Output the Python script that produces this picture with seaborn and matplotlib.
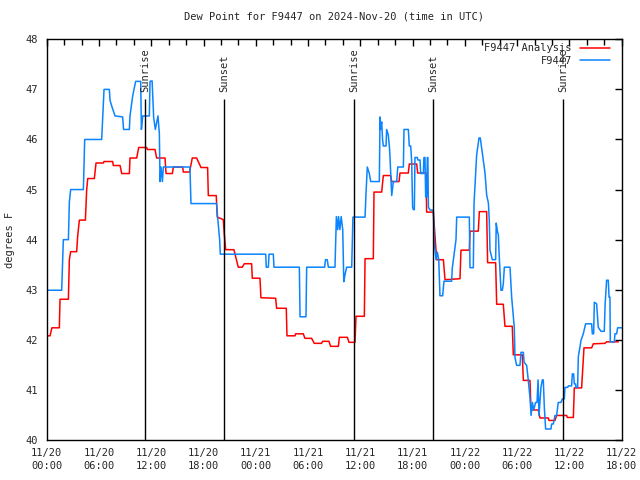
import pandas as pd
import matplotlib
matplotlib.use("Agg")
import matplotlib.pyplot as plt
import matplotlib.dates as mdates
import seaborn as sns

# hours after 2024-11-20 00:00 UTC, dew point in deg F
red_hours = [0, 0.38, 0.6, 1.45, 1.53, 2.49, 2.6, 2.75, 3.44, 3.56, 3.75, 4.44, 4.59, 4.71,
             5.47, 5.66, 6.5, 6.58, 7.57, 7.65, 8.42, 8.61, 9.49, 9.56, 10.33, 10.56, 11.48,
             11.55, 12.43, 12.62, 13.58, 13.7, 14.42, 14.54, 15.61, 15.68, 16.4, 16.71, 17.21,
             17.71, 18.47, 18.55, 19.46, 19.58, 20.27, 20.38, 20.54, 21.49, 21.99, 22.45, 22.68,
             23.52, 23.6, 24.48, 24.59, 26.28, 26.39, 27.5, 27.58, 28.5, 28.57, 29.45, 29.64,
             30.41, 30.71, 31.55, 31.67, 32.4, 32.59, 33.48, 33.59, 34.51, 34.7, 35.39, 35.5,
             36.46, 36.54, 37.49, 37.57, 38.45, 38.64, 39.48, 39.6, 40.44, 40.55, 41.51, 41.62,
             42.47, 42.58, 43.54, 43.61, 44.38, 44.69, 44.76, 45.53, 45.72, 47.44, 47.55, 48.51,
             48.59, 49.54, 49.66, 50.5, 50.61, 51.53, 51.65, 52.41, 52.6, 53.44, 53.56, 54.59,
             54.71, 55.47, 55.59, 56.43, 56.62, 57.58, 57.65, 58.34, 58.53, 59.68, 59.76, 60.45,
             60.56, 61.4, 61.67, 62.55, 62.74, 64.08, 64.27, 65.61]
red_dewpt = [42.08, 42.08, 42.24, 42.24, 42.81, 42.81, 43.6, 43.76, 43.76, 44.08, 44.39, 44.39,
             45.0, 45.22, 45.22, 45.53, 45.53, 45.56, 45.56, 45.48, 45.48, 45.32, 45.32, 45.63,
             45.63, 45.84, 45.84, 45.8, 45.8, 45.63, 45.63, 45.32, 45.32, 45.45, 45.45, 45.35,
             45.35, 45.63, 45.63, 45.44, 45.44, 44.88, 44.88, 44.45, 44.4, 44.12, 43.8, 43.8,
             43.45, 43.45, 43.52, 43.52, 43.23, 43.23, 42.84, 42.83, 42.63, 42.63, 42.08, 42.08,
             42.12, 42.12, 42.03, 42.03, 41.93, 41.93, 41.97, 41.97, 41.87, 41.87, 42.05, 42.05,
             41.95, 41.95, 42.47, 42.47, 43.62, 43.62, 44.95, 44.95, 45.28, 45.28, 45.16, 45.16,
             45.33, 45.33, 45.51, 45.51, 45.33, 45.33, 44.55, 44.55, 43.8, 43.6, 43.6, 43.2,
             43.22, 43.79, 43.79, 44.17, 44.17, 44.56, 44.56, 43.54, 43.54, 42.71, 42.71, 42.27,
             42.27, 41.7, 41.7, 41.19, 41.19, 40.6, 40.6, 40.44, 40.44, 40.39, 40.39, 40.49,
             40.49, 40.45, 40.45, 41.04, 41.04, 41.84, 41.84, 41.92, 41.93, 41.96, 41.96]

blue_hours = [0, 1.72, 1.91, 2.49, 2.6, 2.75, 4.21, 4.36, 6.31, 6.58, 7.19, 7.27, 7.46, 7.84,
              8.72, 8.82, 9.49, 9.56, 9.87, 10.21, 10.79, 10.87, 11.02, 11.78, 11.86, 12.1,
              12.28, 12.47, 12.77, 12.93, 13.01, 13.12, 13.28, 13.39, 16.44, 16.56, 19.5, 19.62,
              19.85, 19.93, 25.14, 25.2, 25.44, 25.52, 26.01, 26.09, 29.0, 29.08, 29.76, 29.84,
              31.9, 32.0, 32.2, 32.33, 33.09, 33.25, 33.4, 33.5, 33.65, 33.8, 33.98, 34.1, 34.24,
              34.43, 35.01, 35.15, 36.54, 36.65, 36.8, 37.03, 37.19, 38.18, 38.26, 38.33, 38.45,
              38.55, 38.64, 38.95, 39.02, 39.2, 39.33, 39.41, 39.6, 39.79, 40.17, 40.3, 40.94,
              41.01, 41.51, 41.62, 41.78, 41.89, 42.0, 42.08, 42.2, 42.27, 42.54, 42.6, 42.85,
              42.93, 43.23, 43.3, 43.42, 43.5, 43.61, 43.69, 43.75, 43.81, 44.0, 44.38, 44.5,
              44.69, 44.84, 45.0, 45.14, 45.45, 45.6, 46.48, 46.56, 46.98, 47.06, 48.51, 48.59,
              48.97, 49.05, 49.35, 49.62, 49.77, 50.0, 50.31, 50.5, 50.7, 50.8, 50.88, 51.15,
              51.53, 51.6, 51.75, 51.84, 51.91, 52.14, 52.3, 52.41, 52.53, 53.18, 53.37, 53.56,
              53.67, 53.75, 53.94, 54.32, 54.44, 54.71, 54.8, 55.09, 55.28, 55.47, 55.6, 55.75,
              55.9, 56.12, 56.28, 56.4, 56.51, 56.73, 56.89, 57.0, 57.12, 57.27, 57.88, 57.96,
              58.15, 58.34, 58.53, 58.72, 59.03, 59.18, 59.41, 59.49, 59.8, 59.87, 60.25, 60.33,
              60.48, 60.56, 60.71, 60.75, 60.94, 61.02, 61.33, 61.59, 61.86, 62.55, 62.63, 62.78,
              62.86, 63.12, 63.31, 63.62, 64.0, 64.1, 64.27, 64.46, 64.55, 64.65, 64.69, 65.15,
              65.23, 65.42, 65.53, 65.99]
blue_dewpt = [42.99, 42.99, 44.0, 44.0, 44.75, 45.0, 45.0, 46.0, 46.0, 47.0, 47.0, 46.78, 46.67,
              46.47, 46.45, 46.2, 46.2, 46.47, 46.87, 47.16, 47.16, 46.2, 46.47, 46.47, 47.16,
              47.17, 46.43, 46.2, 46.47, 46.12, 45.16, 45.45, 45.16, 45.45, 45.45, 44.72, 44.72,
              44.45, 44.0, 43.71, 43.71, 43.45, 43.45, 43.71, 43.71, 43.45, 43.45, 42.46, 42.46,
              43.45, 43.45, 43.6, 43.6, 43.45, 43.45, 44.46, 44.2, 44.46, 44.2, 44.46, 44.2,
              43.16, 43.3, 43.45, 43.45, 44.45, 44.45, 44.92, 45.45, 45.32, 45.16, 45.16, 46.45,
              46.2, 46.35, 46.0, 45.87, 45.87, 46.2, 46.1, 45.87, 45.63, 44.88, 45.16, 45.16,
              45.45, 45.45, 46.2, 46.2, 45.87, 45.87, 45.57, 44.65, 44.6, 44.6, 45.64, 45.64,
              45.59, 45.59, 45.32, 45.32, 45.64, 45.64, 44.85, 44.85, 45.64, 45.64, 44.65, 44.59,
              44.59, 43.9, 43.6, 43.75, 43.6, 42.88, 42.88, 43.17, 43.17, 43.44, 44.0, 44.45,
              44.45, 43.44, 43.44, 44.72, 45.69, 46.03, 46.03, 45.73, 45.33, 44.89, 44.73, 44.39,
              43.79, 43.6, 43.6, 44.33, 44.15, 44.1, 43.79, 42.99, 42.99, 43.12, 43.45, 43.45,
              42.85, 42.48, 42.25, 41.65, 41.49, 41.49, 41.75, 41.75, 41.55, 41.49, 41.19, 40.85,
              40.49, 40.75, 40.6, 40.75, 40.75, 41.2, 40.49, 41.05, 41.2, 41.2, 40.65, 40.22,
              40.22, 40.32, 40.32, 40.49, 40.49, 40.75, 40.75, 40.82, 40.82, 41.05, 41.05, 41.08,
              41.08, 41.32, 41.32, 41.12, 41.12, 41.05, 41.05, 41.66, 41.99, 42.12, 42.32, 42.32,
              42.12, 42.12, 42.75, 42.72, 42.25, 42.17, 42.17, 42.72, 43.19, 43.19, 42.85, 42.85,
              41.96, 41.96, 42.12, 42.12, 42.24, 42.24]

sun_hours = [11.32, 20.39, 35.31, 44.38, 59.3]
sun_labels = ['Sunrise', 'Sunset', 'Sunrise', 'Sunset', 'Sunrise']

base = pd.Timestamp('2024-11-20 00:00')
red_df = pd.DataFrame({'time': base + pd.to_timedelta(red_hours, unit='h'), 'dewpt': red_dewpt})
blue_df = pd.DataFrame({'time': base + pd.to_timedelta(blue_hours, unit='h'), 'dewpt': blue_dewpt})
sun_times = base + pd.to_timedelta(sun_hours, unit='h')

sns.set_theme(style='white')
plt.rcParams['font.family'] = ['DejaVu Sans Mono']
plt.rcParams['font.size'] = 7.5

fig = plt.figure(figsize=(6.4, 4.8), dpi=100)
ax = fig.add_axes([46.7 / 640, 40 / 480, 575 / 640, 400.7 / 480])

sns.lineplot(data=red_df, x='time', y='dewpt', ax=ax, color='#ff0000', lw=1.1,
             sort=False, estimator=None, label='F9447 Analysis')
sns.lineplot(data=blue_df, x='time', y='dewpt', ax=ax, color='#0a84ff', lw=1.1,
             sort=False, estimator=None, label='F9447')

ax.vlines(sun_times, 40, 46.8, color='black', lw=1.0)
for t, lab in zip(sun_times, sun_labels):
    ax.text(t, 46.95, lab, rotation=90, ha='center', va='bottom', fontsize=7.5)

ax.set_xlim(base, base + pd.Timedelta(hours=66))
ax.set_ylim(40, 48)
ax.set_xlabel('')
ax.set_ylabel('')
ax.xaxis.set_major_locator(mdates.HourLocator(byhour=[0, 6, 12, 18]))
ax.xaxis.set_minor_locator(mdates.HourLocator(interval=2))
ax.xaxis.set_major_formatter(mdates.DateFormatter('%m/%d\n%H:%M'))
ax.set_yticks(range(40, 49))
ax.tick_params(axis='both', which='both', direction='in', top=True, right=True,
               color='black', width=1)
ax.tick_params(axis='both', which='major', length=5, labelsize=7.5, pad=6)
ax.tick_params(axis='x', which='minor', length=4)
for lbl in ax.get_xticklabels():
    lbl.set_linespacing(1.3)
for s in ax.spines.values():
    s.set_color('black')
    s.set_linewidth(1)

ax.set_title('Dew Point for F9447 on 2024-Nov-20 (time in UTC)', fontsize=7.5, pad=14)
fig.text(10 / 640, 1 - 240 / 480, 'degrees F', rotation=90, ha='center', va='center',
         fontsize=7.5)

ax.legend(loc='upper right', bbox_to_anchor=(0.98, 0.99), frameon=False, markerfirst=False,
          handlelength=2.9, handletextpad=0.8, labelspacing=0.25, borderpad=0,
          borderaxespad=0, fontsize=7.5)

fig.savefig('out.png', dpi=100)
